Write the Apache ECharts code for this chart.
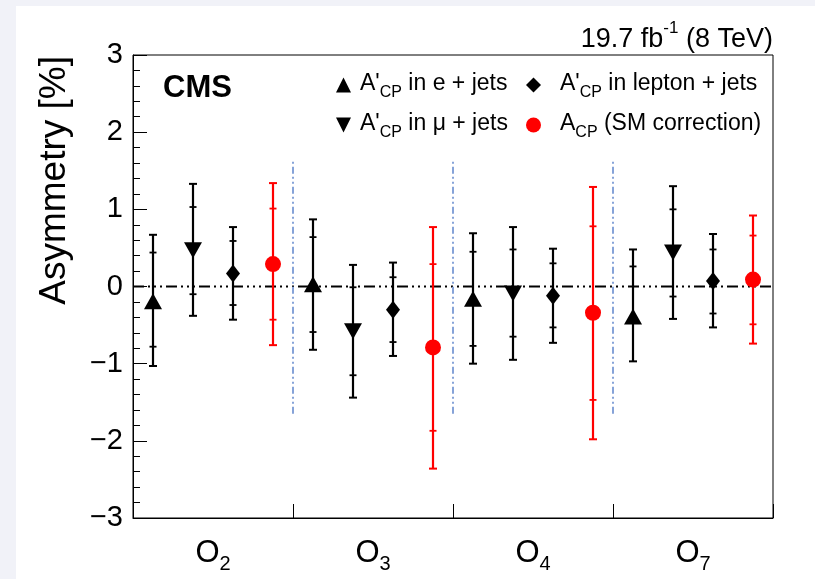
<!DOCTYPE html>
<html>
<head>
<meta charset="utf-8">
<script src="https://cdn.jsdelivr.net/npm/echarts@6/dist/echarts.min.js"></script>
<style>
html,body{margin:0;padding:0;background:#f1f2f8;}
#chart{width:815px;height:579px;}
</style>
</head>
<body>
<div id="chart"></div>
<script>
var FONT = 'Liberation Sans, Arial, Helvetica, sans-serif';

// observables (category subscripts)
var groups = ['2', '3', '4', '7'];

// A'CP in e + jets: central value, stat band, total band
var eVal  = [-0.19, 0.03, -0.16, -0.39];
var eStat = [[-0.78, 0.44], [-0.59, 0.64], [-0.77, 0.45], [-0.42, 0.26]];
var eTot  = [[-1.03, 0.67], [-0.82, 0.87], [-1.00, 0.69], [-0.97, 0.48]];

// A'CP in mu + jets
var muVal  = [0.47, -0.58, -0.09, 0.44];
var muStat = [[-0.10, 1.03], [-1.15, -0.01], [-0.65, 0.48], [-0.13, 1.00]];
var muTot  = [[-0.38, 1.33], [-1.44, 0.28], [-0.95, 0.77], [-0.42, 1.30]];

// A'CP in lepton + jets
var lepVal  = [0.17, -0.30, -0.12, 0.07];
var lepStat = [[-0.24, 0.59], [-0.72, 0.12], [-0.53, 0.30], [-0.35, 0.48]];
var lepTot  = [[-0.43, 0.77], [-0.90, 0.31], [-0.73, 0.49], [-0.53, 0.68]];

// ACP (SM correction)
var smVal  = [0.29, -0.79, -0.34, 0.09];
var smStat = [[-0.43, 1.01], [-1.87, 0.29], [-1.47, 0.78], [-0.49, 0.66]];
var smTot  = [[-0.76, 1.34], [-2.36, 0.77], [-1.98, 1.29], [-0.74, 0.92]];

// group separators and their vertical extent
var sepX = [1, 2, 3];
var sepRange = [-1.65, 1.65];
// reference line at zero, across the whole x range
var zeroLine = [[0, 0, 4]];

// slot of each series inside a group (fraction of group width)
var slots = [0.125, 0.375, 0.625, 0.875];

var downTri = 'path://M0,0L10,0L5,10Z';

var defs = [
    {name: 'e', pre: "A'", sub: 'CP', post: ' in e + jets', val: eVal, stat: eStat, tot: eTot,
     symbol: 'triangle', size: [18, 16], color: '#000', slot: 0},
    {name: 'mu', pre: "A'", sub: 'CP', post: ' in \u03bc + jets', val: muVal, stat: muStat, tot: muTot,
     symbol: downTri, size: [18, 16], color: '#000', slot: 1},
    {name: 'lep', pre: "A'", sub: 'CP', post: ' in lepton + jets', val: lepVal, stat: lepStat, tot: lepTot,
     symbol: 'diamond', size: [14, 18], color: '#000', slot: 2},
    {name: 'sm', pre: 'A', sub: 'CP', post: ' (SM correction)', val: smVal, stat: smStat, tot: smTot,
     symbol: 'circle', size: 16, color: '#ff0000', slot: 3}
];

function capLine(p, half, col, w) {
    return {type: 'line', shape: {x1: p[0] - half, y1: p[1], x2: p[0] + half, y2: p[1]},
            style: {stroke: col, lineWidth: w}};
}

function errRender(params, api) {
    var x = api.value(0);
    var t1 = api.coord([x, api.value(2)]);
    var t2 = api.coord([x, api.value(3)]);
    var s1 = api.coord([x, api.value(4)]);
    var s2 = api.coord([x, api.value(5)]);
    var col = api.visual('color');
    return {type: 'group', children: [
        {type: 'line', shape: {x1: t1[0], y1: t1[1], x2: t2[0], y2: t2[1]},
         style: {stroke: col, lineWidth: 2.2}},
        capLine(t1, 4, col, 2), capLine(t2, 4, col, 2),
        capLine(s1, 3.5, col, 1.8), capLine(s2, 3.5, col, 1.8)
    ]};
}

function vLineRender(params, api) {
    var a = api.coord([api.value(0), api.value(1)]);
    var b = api.coord([api.value(0), api.value(2)]);
    return {type: 'line', shape: {x1: a[0], y1: a[1], x2: b[0], y2: b[1]},
            style: {stroke: '#86a3d8', lineWidth: 2, lineDash: [7, 3, 2, 3, 2, 3]}};
}

function hLineRender(params, api) {
    var a = api.coord([api.value(0), api.value(1)]);
    var b = api.coord([api.value(2), api.value(1)]);
    return {type: 'line', shape: {x1: a[0], y1: a[1], x2: b[0], y2: b[1]},
            style: {stroke: '#000', lineWidth: 2, lineDash: [11, 4, 2, 4, 2, 4, 2, 4]}};
}

var series = [];
series.push({
    type: 'custom', name: 'zero', xAxisIndex: 1, yAxisIndex: 0, silent: true, z: 1,
    renderItem: hLineRender, data: zeroLine
});
series.push({
    type: 'custom', name: 'sep', xAxisIndex: 1, yAxisIndex: 0, silent: true, z: 1,
    renderItem: vLineRender,
    data: sepX.map(function (x) { return [x, sepRange[0], sepRange[1]]; })
});
defs.forEach(function (d) {
    var errData = d.val.map(function (v, i) {
        var x = i + slots[d.slot];
        return [x, v, d.tot[i][0], d.tot[i][1], d.stat[i][0], d.stat[i][1]];
    });
    series.push({
        type: 'custom', name: d.name + '_err', xAxisIndex: 1, yAxisIndex: 0, z: 2,
        itemStyle: {color: d.color}, renderItem: errRender, data: errData,
        encode: {x: 0, y: 1}
    });
    series.push({
        type: 'scatter', name: d.name, xAxisIndex: 1, yAxisIndex: 0, z: 3,
        symbol: d.symbol, symbolSize: d.size, itemStyle: {color: d.color, opacity: 1},
        data: d.val.map(function (v, i) { return [i + slots[d.slot], v]; })
    });
});

function legendFmt(name) {
    var d = defs.filter(function (q) { return q.name === name; })[0];
    return '{a|' + d.pre + '}{s|' + d.sub + '}{a|' + d.post + '}';
}

var legRich = {
    a: {fontSize: 23, fontFamily: FONT, color: '#000', verticalAlign: 'top', lineHeight: 26},
    s: {fontSize: 16, fontFamily: FONT, color: '#000', verticalAlign: 'top', lineHeight: 16, padding: [13, 0, 0, 0]}
};

function legend(left, names, gap) {
    return {
        orient: 'vertical', left: left, top: 72, itemGap: 11, itemWidth: 15, itemHeight: 15,
        selectedMode: false, padding: 0,
        data: names.map(function (n) {
            var d = defs.filter(function (q) { return q.name === n; })[0];
            return {name: n, icon: d.symbol, itemStyle: {color: d.color}};
        }),
        formatter: legendFmt,
        textStyle: {rich: legRich, color: '#000', padding: [0, 0, 0, gap]}
    };
}

var chart = echarts.init(document.getElementById('chart'), null, {renderer: 'canvas'});
chart.setOption({
    animation: false,
    backgroundColor: 'transparent',
    grid: {left: 133, right: 42, top: 55, bottom: 61, show: true, borderColor: '#000', borderWidth: 1,
           backgroundColor: '#fff'},
    legend: [legend(336, ['e', 'mu'], 4), legend(526, ['lep', 'sm'], 14)],
    xAxis: [{
        type: 'category', data: groups, position: 'bottom',
        axisLine: {show: true, onZero: false, lineStyle: {color: '#000', width: 1}},
        axisTick: {show: true, inside: true, length: 14, interval: 0, lineStyle: {color: '#000'}},
        splitLine: {show: false},
        axisLabel: {
            margin: 20, interval: 0,
            formatter: function (v) { return '{o|O}{s|' + v + '}'; },
            rich: {
                o: {fontSize: 31, fontFamily: FONT, color: '#000', verticalAlign: 'top', lineHeight: 32},
                s: {fontSize: 20, fontFamily: FONT, color: '#000', verticalAlign: 'top', lineHeight: 20, padding: [16, 0, 0, 0]}
            }
        }
    }, {
        type: 'value', min: 0, max: 4, show: false
    }],
    yAxis: [{
        type: 'value', min: -3, max: 3, interval: 1,
        axisLine: {show: true, onZero: false, lineStyle: {color: '#000', width: 1}},
        axisTick: {show: true, inside: true, length: 14, lineStyle: {color: '#000'}},
        minorTick: {show: true, splitNumber: 5, length: 7, lineStyle: {color: '#000'}},
        splitLine: {show: false},
        axisLabel: {
            fontSize: 29, fontFamily: FONT, color: '#000', margin: 10,
            formatter: function (v) { return v < 0 ? '\u2212' + (-v) : String(v); }
        }
    }],
    graphic: [
        {type: 'rect', x: 16, y: 6, shape: {width: 800, height: 574}, style: {fill: '#fff'}, z: -10, silent: true},
        {type: 'text', x: 55, y: 56, rotation: Math.PI / 2, z: 5,
         style: {text: 'Asymmetry [%]', font: '37px ' + FONT, fill: '#000', textAlign: 'right', textVerticalAlign: 'middle'}},
        {type: 'text', x: 163, y: 88, z: 5,
         style: {text: 'CMS', font: 'bold 31px ' + FONT, fill: '#000', textAlign: 'left', textVerticalAlign: 'middle'}},
        {type: 'text', x: 773, y: 34, z: 5,
         style: {text: '{a|19.7 fb}{p|-1}{a| (8 TeV)}', textAlign: 'right', textVerticalAlign: 'middle',
                 rich: {
                     a: {fontSize: 27, fontFamily: FONT, fill: '#000', verticalAlign: 'top', lineHeight: 28, padding: [6, 0, 0, 0]},
                     p: {fontSize: 17, fontFamily: FONT, fill: '#000', verticalAlign: 'top', lineHeight: 17}
                 }}}
    ],
    series: series
});
</script>
</body>
</html>
